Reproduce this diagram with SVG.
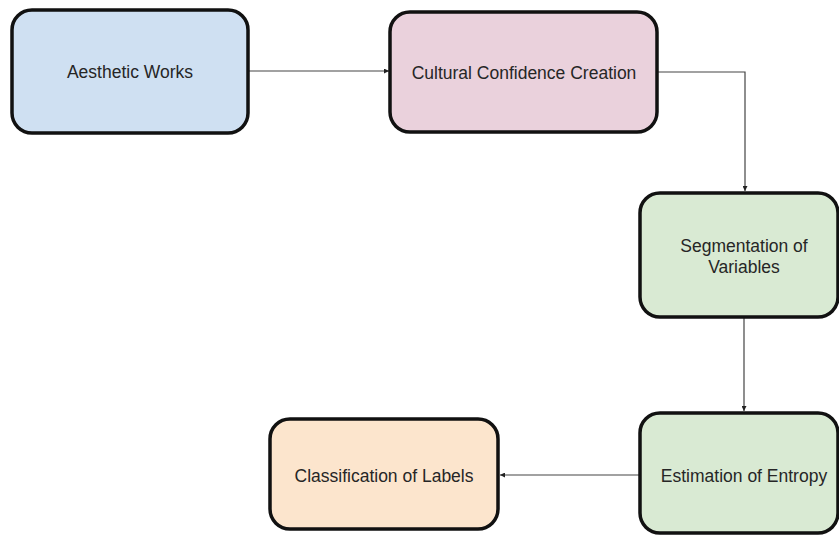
<svg xmlns="http://www.w3.org/2000/svg" width="839" height="535" viewBox="0 0 839 535">
<defs>
<style>
.box{stroke:#111;stroke-width:3.5}
.lbl{font-family:"Liberation Sans",Arial,sans-serif;font-size:17.5px;fill:#262626;text-anchor:middle;dominant-baseline:central}
.conn{fill:none;stroke:#444;stroke-width:1.2}
</style>
<marker id="ah" viewBox="0 0 10 10" refX="10" refY="5" markerWidth="5" markerHeight="5" orient="auto" markerUnits="userSpaceOnUse">
<path d="M0,0 L10,5 L0,10 Z" fill="#222"/>
</marker>
</defs>
<rect width="839" height="535" fill="#fff"/>
<g id="connectors">
<path class="conn" d="M248,71 H389" marker-end="url(#ah)"/>
<path class="conn" d="M657,72 H745 V191" marker-end="url(#ah)"/>
<path class="conn" d="M744,317 V411" marker-end="url(#ah)"/>
<path class="conn" d="M640,475 H500" marker-end="url(#ah)"/>
</g>
<g id="n1">
<rect class="box" x="12" y="10" width="236" height="123" rx="20" fill="#cfe0f2"/>
<text class="lbl" x="130" y="72">Aesthetic Works</text>
</g>
<g id="n2">
<rect class="box" x="390" y="12" width="267" height="120" rx="20" fill="#ead1dc"/>
<text class="lbl" x="524" y="73">Cultural Confidence Creation</text>
</g>
<g id="n3">
<rect class="box" x="640" y="193" width="198" height="124" rx="20" fill="#d9ead3"/>
<text class="lbl" x="744" y="246">Segmentation of</text>
<text class="lbl" x="744" y="267">Variables</text>
</g>
<g id="n4">
<rect class="box" x="640" y="413" width="198" height="120" rx="20" fill="#d9ead3"/>
<text class="lbl" x="744" y="476">Estimation of Entropy</text>
</g>
<g id="n5">
<rect class="box" x="270" y="419" width="228" height="110" rx="20" fill="#fce5cd"/>
<text class="lbl" x="384" y="476">Classification of Labels</text>
</g>
</svg>
